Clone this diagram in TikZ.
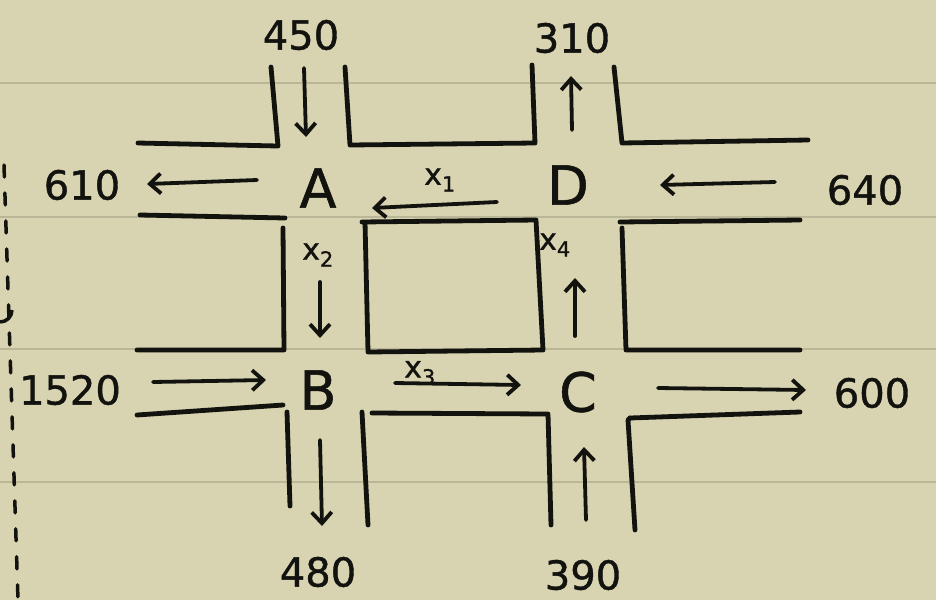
\documentclass[tikz,border=0pt]{standalone}
\usepackage{fontspec}
\setmainfont[FakeBold=1.0]{DejaVu Sans}
\usetikzlibrary{arrows.meta}
\definecolor{paper}{RGB}{216,211,176}
\definecolor{rulecol}{RGB}{186,182,152}
\definecolor{ink}{RGB}{18,18,14}
\begin{document}
\begin{tikzpicture}[x=1pt,y=-1pt,
  road/.style={draw=ink,line width=4.8pt,line cap=round,line join=round},
  flow/.style={draw=ink,line width=3.8pt,line cap=round,-{Straight Barb[length=11pt,width=20pt,line width=3.8pt]}},
  num/.style={text=ink,inner sep=0pt,font=\fontsize{40}{40}\selectfont},
  junc/.style={text=ink,inner sep=0pt,font=\fontsize{54}{54}\selectfont},
  var/.style={text=ink,inner sep=0pt,font=\fontsize{30}{30}\selectfont}]
% paper
\fill[paper] (0,0) rectangle (936,600);
\useasboundingbox (0,0) rectangle (936,600);
\foreach \yy in {83,217,349,482}
  \draw[rulecol,line width=1.6pt] (0,\yy) -- (936,\yy);
% margin dashes
\draw[ink,line width=3.5pt,dash pattern=on 12pt off 16pt,line cap=round] (4,165) -- (18,600);
\draw[ink,line width=3.5pt] (0,322) arc[start angle=90,end angle=0,radius=12];
% roads: top row
\draw[road] (138,143) -- (278,146) -- (271,67);
\draw[road] (345,67) -- (350,145) -- (535,143) -- (532,65);
\draw[road] (614,67) -- (622,143) -- (808,140);
\draw[road] (140,215) -- (285,218);
\draw[road] (283,228) -- (284,350) -- (137,350);
\draw[road] (362,222) -- (536,220) -- (543,350) -- (368,352) -- (365,222);
\draw[road] (620,222) -- (800,220);
\draw[road] (622,228) -- (626,350) -- (800,350);
% bottom row
\draw[road] (137,415) -- (283,405);
\draw[road] (287,412) -- (290,506);
\draw[road] (362,412) -- (368,525);
\draw[road] (372,413) -- (548,414) -- (551,525);
\draw[road] (630,418) -- (628,420) -- (635,530);
\draw[road] (630,418) -- (800,412);
% junction labels
\node[junc] (A) at (318,188) {A};
\node[junc] (D) at (568,185) {D};
\node[junc] (B) at (318,390) {B};
\node[junc] (C) at (578,392) {C};
% outer flows
\node[num] (n450) at (301,35) {450};
\node[num] (n310) at (572,38) {310};
\node[num] (n610) at (82,185) {610};
\node[num] (n640) at (865,190) {640};
\node[num] (n1520) at (70,390) {1520};
\node[num] (n600) at (872,393) {600};
\node[num] (n480) at (318,572) {480};
\node[num] (n390) at (583,575) {390};
% variables
\node[var] (x1) at (440,180) {x\textsubscript{1}};
\node[var] (x2) at (318,255) {x\textsubscript{2}};
\node[var] (x3) at (420,373) {x\textsubscript{3}};
\node[var] (x4) at (555,245) {x\textsubscript{4}};
% arrow end points
\coordinate (a450s) at (304,68);  \coordinate (a450e) at (306,137);
\coordinate (a310s) at (572,130); \coordinate (a310e) at (571,76);
\coordinate (a610s) at (257,180); \coordinate (a610e) at (147,184);
\coordinate (ax1s) at (497,202);  \coordinate (ax1e) at (372,208);
\coordinate (a640s) at (775,182); \coordinate (a640e) at (660,185);
\coordinate (ax2s) at (320,282);  \coordinate (ax2e) at (320,338);
\coordinate (ax4s) at (575,336);  \coordinate (ax4e) at (575,278);
\coordinate (a1520s) at (153,382);\coordinate (a1520e) at (266,380);
\coordinate (ax3s) at (395,383);  \coordinate (ax3e) at (521,385);
\coordinate (a600s) at (658,388); \coordinate (a600e) at (806,390);
\coordinate (a480s) at (320,440); \coordinate (a480e) at (322,526);
\coordinate (a390s) at (586,520); \coordinate (a390e) at (584,447);
\foreach \s/\e in {a450s/a450e,a310s/a310e,a610s/a610e,ax1s/ax1e,a640s/a640e,ax2s/ax2e,ax4s/ax4e,a1520s/a1520e,ax3s/ax3e,a600s/a600e,a480s/a480e,a390s/a390e}
  \draw[flow] (\s) -- (\e);
\end{tikzpicture}
\end{document}
